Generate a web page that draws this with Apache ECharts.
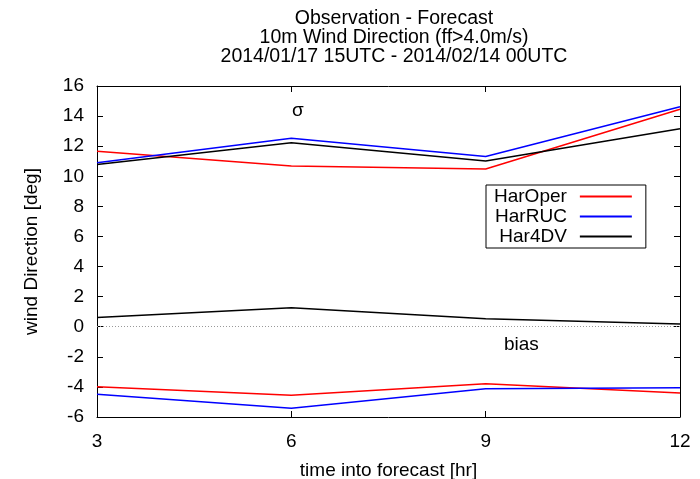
<!DOCTYPE html>
<html>
<head>
<meta charset="utf-8">
<script src="https://cdn.jsdelivr.net/npm/echarts@6/dist/echarts.min.js"></script>
<style>
  html, body { margin: 0; padding: 0; background: #fff; }
  #chart { width: 700px; height: 479px; }
</style>
</head>
<body>
<div id="chart"></div>
<script>
let leadTimes = [3, 6, 9, 12];
let yTicks = [-6, 16, 2];

// sigma (upper curves)
let sigmaOper = [11.67, 10.68, 10.48, 14.45];
let sigmaRuc = [10.9, 12.52, 11.32, 14.62];
let sigma4dv = [10.79, 12.23, 11.01, 13.16];

// bias (lower curves)
let biasOper = [-3.99, -4.56, -3.79, -4.41];
let biasRuc = [-4.49, -5.42, -4.12, -4.05];
let bias4dv = [0.62, 1.26, 0.53, 0.18];

let names = ["HarOper", "HarRUC", "Har4DV"];
let colors = ["#ff0000", "#0000ff", "#000000"];

let chartDom = document.getElementById("chart");
let myChart = echarts.init(chartDom);
let font = "Liberation Sans, Arial, sans-serif";

function pairs(vals) {
  return vals.map(function (v, i) {
    return [leadTimes[i], v];
  });
}

function line(name, vals, color) {
  return {
    name: name,
    type: "line",
    data: pairs(vals),
    symbol: "none",
    lineStyle: { color: color, width: 1.5 },
    itemStyle: { color: color },
    animation: false,
  };
}

let series = [
  line(names[0], sigmaOper, colors[0]),
  line(names[1], sigmaRuc, colors[1]),
  line(names[2], sigma4dv, colors[2]),
  line(names[0], biasOper, colors[0]),
  line(names[1], biasRuc, colors[1]),
  line(names[2], bias4dv, colors[2]),
];
// dotted zero line
series[5].markLine = {
  silent: true,
  symbol: "none",
  label: { show: false },
  lineStyle: { color: "#999", type: [1, 2], width: 1 },
  data: [{ yAxis: 0 }],
};

let xBase = {
  type: "value",
  min: leadTimes[0],
  max: leadTimes[leadTimes.length - 1],
  interval: 3,
  splitLine: { show: false },
  axisLine: { show: true, onZero: false, lineStyle: { color: "#000", width: 1 } },
  axisTick: { show: true, inside: true, length: 6, lineStyle: { color: "#000" } },
};
let yBase = {
  type: "value",
  min: yTicks[0],
  max: yTicks[1],
  interval: yTicks[2],
  splitLine: { show: false },
  axisLine: { show: true, onZero: false, lineStyle: { color: "#000", width: 1 } },
  axisTick: { show: true, inside: true, length: 6, lineStyle: { color: "#000" } },
};

let option = {
  backgroundColor: "#fff",
  textStyle: { fontFamily: font },
  title: {
    text: "Observation - Forecast\n10m Wind Direction (ff>4.0m/s)\n2014/01/17 15UTC - 2014/02/14 00UTC",
    left: 389,
    top: 4,
    textAlign: "center",
    textStyle: { fontFamily: font, fontSize: 19.5, fontWeight: "normal", color: "#000", lineHeight: 19 },
  },
  legend: {
    data: names,
    orient: "vertical",
    left: 486,
    top: 185,
    width: 159,
    align: "right",
    itemGap: 1,
    itemWidth: 52,
    itemHeight: 12,
    padding: [2, 14, 2, 8],
    borderColor: "#000",
    borderWidth: 1,
    icon: "path://M0,5 L52,5 L52,7 L0,7 Z",
    textStyle: { fontFamily: font, fontSize: 19, color: "#000", width: 80, align: "right", padding: [0, 8, 0, 0] },
  },
  grid: { left: 97, right: 20, top: 86, bottom: 62, containLabel: false, outerBoundsMode: "none" },
  xAxis: [
    Object.assign({}, xBase, {
      name: "time into forecast [hr]",
      nameLocation: "middle",
      nameGap: 44,
      nameTextStyle: { fontFamily: font, fontSize: 19, color: "#000" },
      axisLabel: { fontFamily: font, fontSize: 19, color: "#000", margin: 15 },
    }),
    Object.assign({}, xBase, { position: "top", axisLabel: { show: false } }),
  ],
  yAxis: [
    Object.assign({}, yBase, {
      name: "wind Direction [deg]",
      nameLocation: "middle",
      nameGap: 56,
      nameTextStyle: { fontFamily: font, fontSize: 19, color: "#000" },
      axisLabel: { fontFamily: font, fontSize: 19, color: "#000", margin: 13 },
    }),
    Object.assign({}, yBase, { position: "right", axisLabel: { show: false } }),
  ],
  graphic: [
    { type: "text", left: 292, top: 101, style: { text: "σ", fontFamily: font, fontSize: 19, fill: "#000" } },
    { type: "text", left: 504, top: 335, style: { text: "bias", fontFamily: font, fontSize: 19, fill: "#000" } },
  ],
  series: series,
};

option && myChart.setOption(option);
</script>
</body>
</html>
